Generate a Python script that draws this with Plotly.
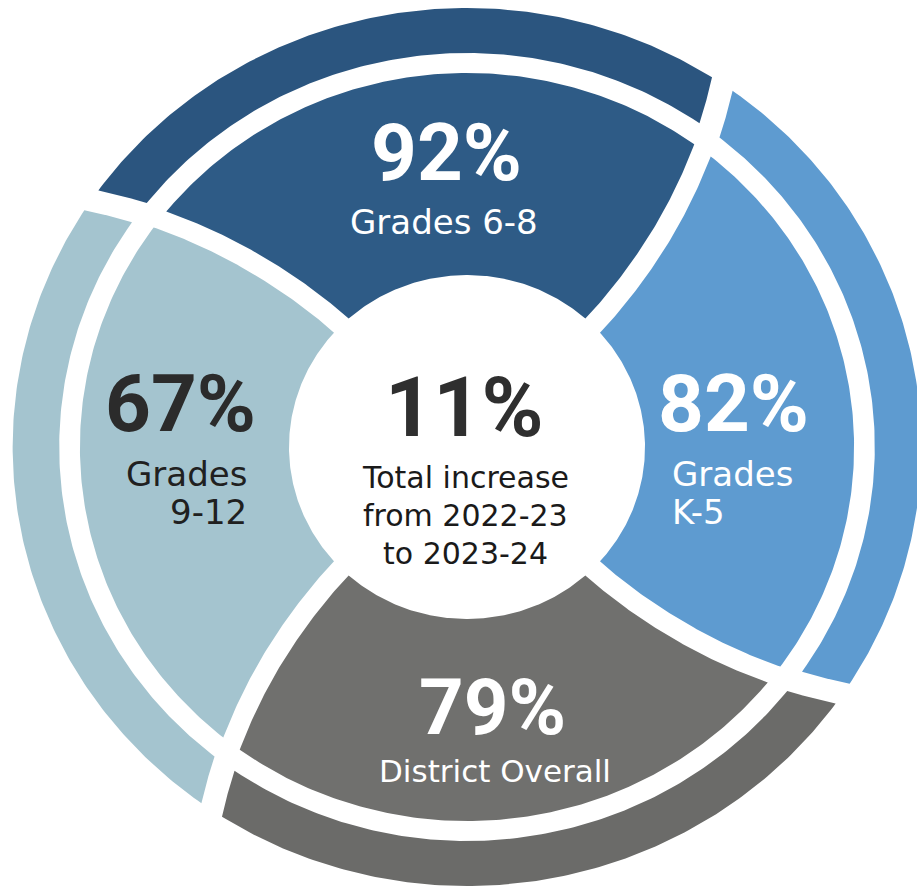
import numpy as np
import plotly.graph_objects as go

# ---------------- data ----------------
categories = ["Grades K-5", "Grades 6-8", "Grades 9-12", "District Overall"]
values = [82, 92, 67, 79]
label_lines = [["Grades", "K-5"], ["Grades 6-8"], ["Grades", "9-12"], ["District Overall"]]
center_value = 11
center_caption = ["Total increase", "from 2022-23", "to 2023-24"]

# ---------------- styles / geometry ----------------
W, H = 917, 891
CX, CY, SX = 467, 447, 1.035
R0, R1, R2, R3 = 172, 374, 394, 439
TOTAL_TWIST = np.radians(10.8)     # spiral twist of the separators from R0 to R3
TWIST_POW = 1.3
FIRST_GAP_DEG = -45
G_IN, G_OUT = 20, 24

inner_colors = ["#5E9BD0", "#2E5B86", "#A4C4CF", "#70706E"]
outer_colors = ["#5E9BD0", "#2B557F", "#A4C4CF", "#6B6B69"]
num_colors = ["white", "white", "#2b2b2b", "white"]
txt_colors = ["white", "white", "#202020", "white"]

# label placement per category: number (x, y, size), text (x, y of first line, anchor, size)
label_pos = [
    dict(nx=733, ny=404, ns=80, tx=670, ty=474, anchor="left", ts=34),
    dict(nx=446, ny=153, ns=80, tx=444, ty=222, anchor="center", ts=34),
    dict(nx=180, ny=404, ns=80, tx=249, ty=474, anchor="right", ts=34),
    dict(nx=492, ny=707, ns=78, tx=495, ty=771, anchor="center", ts=31),
]
NUM_FONT = "Roboto"
TXT_FONT = "DejaVu Sans"


def gap_theta(j, r):
    u = np.clip((r - R0) / (R3 - R0), 0, 1)
    return np.radians(FIRST_GAP_DEG + 90 * j) + TOTAL_TWIST * u ** TWIST_POW


def to_xy(r, th):
    return CX + SX * r * np.cos(th), CY - r * np.sin(th)


def segment(i, ra, rb, g):
    rs = np.linspace(ra, rb, 80)
    ta = gap_theta(i, rs) + g / (2 * rs)
    tb = gap_theta(i + 1, rs) - g / (2 * rs)
    th_out = np.linspace(ta[-1], tb[-1], 150)
    th_in = np.linspace(tb[0], ta[0], 150)
    r_path = np.concatenate([rs, np.full(150, rb), rs[::-1], np.full(150, ra)])
    th_path = np.concatenate([ta, th_out, tb[::-1], th_in])
    return to_xy(r_path, th_path)


fig = go.Figure()
for i, cat in enumerate(categories):
    for (ra, rb, g, col) in [(R0, R1, G_IN, inner_colors[i]), (R2, R3, G_OUT, outer_colors[i])]:
        x, y = segment(i, ra, rb, g)
        fig.add_trace(go.Scatter(
            x=x, y=y, mode="lines", fill="toself", fillcolor=col,
            line=dict(width=0, color=col), hoverinfo="skip", name=cat, showlegend=False,
        ))

annotations = []
for i, cat in enumerate(categories):
    p = label_pos[i]
    annotations.append(dict(
        x=p["nx"], y=p["ny"], text=f"<b>{values[i]}%</b>", showarrow=False,
        xanchor="center", yanchor="middle",
        font=dict(family=NUM_FONT, size=p["ns"], color=num_colors[i]),
    ))
    for k, line in enumerate(label_lines[i]):
        annotations.append(dict(
            x=p["tx"], y=p["ty"] + 38 * k, text=line, showarrow=False,
            xanchor=p["anchor"], yanchor="middle",
            font=dict(family=TXT_FONT, size=p["ts"], color=txt_colors[i]),
        ))

annotations.append(dict(
    x=464, y=407, text=f"<b>{center_value}%</b>", showarrow=False, xanchor="center", yanchor="middle",
    font=dict(family=NUM_FONT, size=84, color="#2f2f2f"),
))
for k, line in enumerate(center_caption):
    annotations.append(dict(
        x=465, y=477 + 38 * k, text=line, showarrow=False, xanchor="center", yanchor="middle",
        font=dict(family=TXT_FONT, size=30, color="#1a1a1a"),
    ))

fig.update_layout(
    width=W, height=H, margin=dict(l=0, r=0, t=0, b=0),
    paper_bgcolor="white", plot_bgcolor="white",
    xaxis=dict(range=[0, W], visible=False, fixedrange=True),
    yaxis=dict(range=[H, 0], visible=False, fixedrange=True),
    annotations=annotations, showlegend=False,
)
fig.write_html("out.html")
